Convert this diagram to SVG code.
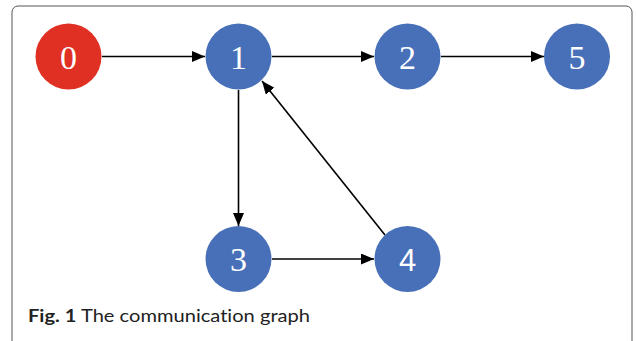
<svg xmlns="http://www.w3.org/2000/svg" width="636" height="341" viewBox="0 0 636 341">
<defs>
<marker id="ah" markerWidth="13" markerHeight="11" refX="13" refY="5.5" orient="auto" markerUnits="userSpaceOnUse">
<path d="M0,0 L13,5.5 L0,11 Z" fill="#000"/>
</marker>
<style>
.node{fill:#4870b8}
.red{fill:#df3023}
.lbl{font-family:"Liberation Serif",serif;font-size:34px;fill:#fff;text-anchor:middle}
.lbls{font-family:"Liberation Sans",sans-serif;font-size:31px;fill:#fff;text-anchor:middle}
.edge{stroke:#000;stroke-width:1.6;fill:none;marker-end:url(#ah)}
.cap{font-family:Lato,"Noto Sans",sans-serif;font-size:16.5px;fill:#222;font-variant-ligatures:none}
</style>
</defs>
<rect x="12" y="6" width="620" height="345" rx="6" fill="#fff" stroke="#555" stroke-width="1"/>
<g id="edges">
<line class="edge" x1="102" y1="56.5" x2="205" y2="56.5"/>
<line class="edge" x1="272" y1="56.5" x2="374" y2="56.5"/>
<line class="edge" x1="441" y1="56.5" x2="544" y2="56.5"/>
<line class="edge" x1="238.5" y1="90" x2="238.5" y2="226"/>
<line class="edge" x1="272" y1="259" x2="374" y2="259"/>
<line class="edge" x1="385" y1="235" x2="262" y2="81"/>
</g>
<g id="n0"><circle class="red" cx="68.5" cy="56.5" r="33"/><text class="lbl" x="68.5" y="68.5">0</text></g>
<g id="n1"><circle class="node" cx="238.5" cy="56.5" r="33"/><text class="lbl" x="238.5" y="68.5">1</text></g>
<g id="n2"><circle class="node" cx="407.5" cy="56.5" r="33"/><text class="lbl" x="407.5" y="68.5">2</text></g>
<g id="n5"><circle class="node" cx="577" cy="56.5" r="33"/><text class="lbl" x="577" y="68.5">5</text></g>
<g id="n3"><circle class="node" cx="238.5" cy="259" r="33"/><text class="lbl" x="238.5" y="271">3</text></g>
<g id="n4"><circle class="node" cx="407.5" cy="259" r="33"/><text class="lbls" x="407.5" y="271">4</text></g>
<text class="cap" x="28" y="322" textLength="282" lengthAdjust="spacingAndGlyphs"><tspan font-weight="bold">Fig. 1</tspan> The communication graph</text>
</svg>
